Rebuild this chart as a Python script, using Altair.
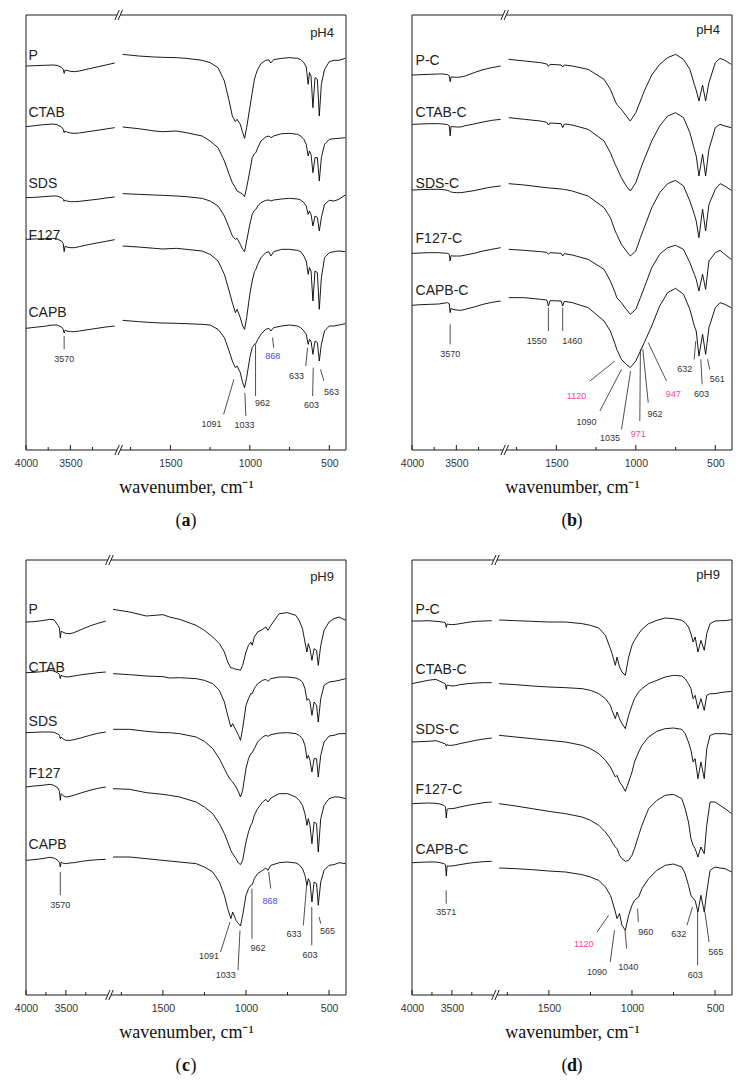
import altair as alt
import pandas as pd

# ---------------- data (wavenumber grids, cm-1) ----------------
LEFT_WN = [4000, 3900, 3800, 3700, 3650, 3600, 3580, 3570, 3560, 3540, 3500, 3450, 3400, 3300, 3200, 3100, 3000]

A_RIGHT_WN = [1800, 1700, 1600, 1550, 1460, 1400, 1300, 1250, 1200, 1160, 1130, 1110, 1091, 1080, 1060, 1045, 1033, 1020,
              1000, 985, 971, 962, 950, 930, 900, 880, 868, 850, 800, 750, 700, 680, 660, 645, 633, 625, 615, 603, 590,
              575, 563, 550, 530, 500, 470, 440, 400]
B_RIGHT_WN = [1800, 1700, 1600, 1560, 1550, 1540, 1470, 1460, 1450, 1400, 1300, 1200, 1160, 1130, 1120, 1091, 1060, 1035,
              1000, 971, 947, 900, 850, 800, 750, 700, 660, 632, 620, 603, 580, 561, 540, 500, 470, 440, 400]
C_RIGHT_WN = [1800, 1700, 1600, 1500, 1460, 1400, 1300, 1250, 1200, 1160, 1130, 1110, 1091, 1080, 1060, 1045, 1033, 1020,
              1000, 985, 971, 962, 950, 930, 900, 880, 868, 850, 800, 750, 700, 680, 660, 645, 633, 625, 615, 603, 590,
              575, 565, 550, 530, 500, 470, 440, 400]
D_RIGHT_WN = [1800, 1700, 1600, 1500, 1400, 1300, 1250, 1200, 1160, 1130, 1120, 1100, 1090, 1075, 1060, 1040, 1020, 1000,
              985, 960, 940, 900, 850, 800, 750, 700, 680, 660, 645, 632, 620, 603, 585, 565, 550, 530, 500, 470, 440, 400]

# ---------------- spectra (offset absorbance-like units, larger = lower) ----------------
# panel (a) pH4, powders
A_NAMES = ["P", "CTAB", "SDS", "F127", "CAPB"]
A_P_L = [195, 194, 193, 192, 193, 199, 205, 217, 207, 208, 211, 212, 210, 204, 198, 192, 186]
A_CTAB_L = [377, 374, 371, 369, 371, 378, 385, 395, 390, 393, 396, 397, 396, 392, 388, 384, 380]
A_SDS_L = [590, 589, 587, 585, 585, 590, 595, 601, 597, 600, 602, 602, 601, 598, 595, 591, 588]
A_F127_L = [715, 714, 713, 712, 714, 720, 728, 752, 736, 738, 740, 740, 737, 731, 726, 721, 716]
A_CAPB_L = [982, 979, 976, 972, 972, 978, 985, 996, 988, 990, 992, 992, 990, 986, 982, 978, 975]
A_P_R = [160, 165, 168, 169, 170, 172, 178, 185, 200, 240, 300, 345, 362, 355, 370, 395, 412, 380, 320, 275, 235, 220,
         205, 188, 178, 177, 186, 176, 172, 170, 172, 176, 185, 198, 250, 215, 225, 320, 230, 235, 345, 250, 205, 182,
         178, 178, 172]
A_CTAB_R = [378, 383, 390, 392, 390, 395, 405, 420, 440, 480, 520, 545, 560, 570, 575, 580, 587, 560, 510, 470, 458, 455,
            440, 420, 408, 405, 410, 405, 398, 397, 400, 405, 415, 430, 465, 450, 460, 515, 470, 470, 540, 470, 430, 415,
            413, 412, 410]
A_SDS_R = [578, 580, 582, 583, 585, 587, 592, 600, 615, 645, 680, 705, 715, 712, 730, 745, 752, 720, 670, 640, 628, 625,
           615, 605, 598, 597, 600, 597, 594, 592, 594, 597, 605, 615, 640, 630, 640, 675, 645, 650, 690, 650, 610, 598,
           600, 595, 582]
A_F127_R = [735, 738, 742, 744, 742, 745, 750, 760, 780, 820, 870, 905, 935, 925, 950, 975, 985, 950, 880, 840, 812, 805,
            790, 770, 755, 752, 765, 752, 745, 745, 748, 752, 765, 780, 820, 800, 810, 900, 810, 815, 925, 830, 770, 755,
            752, 750, 752]
A_CAPB_R = [958, 962, 965, 966, 967, 968, 970, 972, 985, 1010, 1050, 1080, 1100, 1095, 1115, 1145, 1160, 1130, 1070, 1040,
            1030, 1028, 1015, 1000, 985, 982, 990, 980, 975, 972, 975, 980, 990, 1000, 1030, 1015, 1020, 1060, 1020, 1025,
            1080, 1030, 990, 975, 975, 972, 968]

# panel (b) pH4, calcined
B_NAMES = ["P-C", "CTAB-C", "SDS-C", "F127-C", "CAPB-C"]
B_P_L = [222, 221, 220, 219, 219, 221, 224, 242, 228, 228, 229, 228, 225, 215, 206, 200, 195]
B_CTAB_L = [370, 369, 368, 368, 369, 371, 374, 405, 376, 377, 378, 378, 374, 369, 363, 358, 355]
B_SDS_L = [567, 566, 565, 565, 566, 568, 570, 572, 573, 574, 575, 575, 573, 569, 563, 558, 555]
B_F127_L = [757, 756, 755, 755, 756, 757, 760, 780, 764, 765, 765, 765, 762, 757, 750, 745, 740]
B_CAPB_L = [913, 911, 910, 909, 907, 905, 908, 935, 922, 925, 927, 928, 925, 918, 910, 904, 900]
B_P_R = [175, 180, 185, 189, 196, 190, 192, 198, 192, 195, 205, 235, 265, 300, 310, 325, 345, 360, 335, 300, 270, 222,
         190, 170, 160, 175, 205, 250, 268, 300, 252, 300, 245, 185, 172, 178, 190]
B_CTAB_R = [350, 355, 360, 364, 372, 366, 368, 380, 369, 372, 385, 420, 455, 490, 500, 530, 555, 570, 545, 505, 475, 420,
            375, 345, 335, 350, 395, 445, 465, 525, 460, 525, 445, 380, 370, 375, 380]
B_SDS_R = [548, 552, 558, 560, 561, 561, 564, 565, 565, 570, 585, 620, 650, 690, 700, 730, 750, 765, 750, 710, 680, 620,
           575, 548, 538, 555, 600, 640, 660, 710, 625, 690, 610, 565, 548, 555, 568]
B_F127_R = [745, 748, 752, 754, 760, 755, 757, 765, 758, 762, 775, 805, 840, 875, 890, 905, 925, 940, 925, 890, 860, 800,
            760, 740, 733, 745, 785, 820, 835, 870, 820, 865, 780, 755, 748, 760, 775]
B_CAPB_R = [890, 890, 895, 897, 915, 899, 900, 915, 901, 905, 920, 960, 990, 1030, 1045, 1075, 1090, 1100, 1080, 1050,
            1025, 975, 915, 875, 862, 880, 925, 975, 990, 1065, 1000, 1060, 980, 920, 905, 910, 920]

# panel (c) pH9, powders
C_NAMES = ["P", "CTAB", "SDS", "F127", "CAPB"]
C_P_L = [240, 239, 236, 232, 233, 250, 258, 288, 268, 270, 274, 275, 272, 262, 252, 244, 237]
C_CTAB_L = [392, 391, 389, 385, 387, 393, 397, 410, 400, 402, 405, 404, 402, 398, 395, 392, 390]
C_SDS_L = [572, 571, 570, 570, 571, 576, 580, 590, 585, 590, 595, 595, 593, 587, 580, 574, 570]
C_F127_L = [735, 732, 730, 727, 730, 738, 748, 775, 755, 760, 765, 763, 760, 752, 745, 739, 735]
C_CAPB_L = [955, 953, 950, 946, 948, 955, 962, 975, 960, 963, 965, 963, 962, 958, 955, 953, 952]
C_P_R = [202, 210, 222, 218, 225, 232, 250, 265, 285, 305, 330, 360, 378, 378, 382, 383, 385, 370, 330, 310, 300, 310,
         285, 270, 262, 255, 265, 250, 215, 212, 220, 235, 260, 300, 330, 305, 320, 355, 320, 325, 370, 310, 265, 240,
         230, 225, 235]
C_CTAB_R = [395, 398, 402, 404, 408, 407, 410, 415, 425, 445, 480, 520, 555, 545, 565, 580, 595, 560, 490, 470, 455, 455,
            440, 425, 415, 412, 418, 410, 405, 405, 408, 412, 420, 440, 475, 470, 478, 520, 480, 490, 540, 470, 430, 420,
            418, 415, 410]
C_SDS_R = [562, 562, 568, 572, 572, 575, 585, 598, 620, 650, 680, 700, 715, 720, 735, 750, 765, 745, 680, 650, 635, 632,
           620, 600, 585, 580, 583, 578, 573, 572, 575, 580, 590, 610, 650, 640, 655, 690, 650, 650, 705, 640, 600, 582,
           580, 575, 575]
C_F127_R = [740, 742, 752, 757, 760, 765, 780, 795, 815, 845, 875, 900, 925, 935, 950, 963, 968, 955, 900, 870, 850, 842,
            820, 800, 780, 772, 780, 768, 755, 755, 765, 775, 790, 815, 850, 830, 850, 905, 840, 845, 930, 830, 790, 770,
            765, 765, 770]
C_CAPB_R = [945, 945, 950, 955, 957, 960, 965, 975, 990, 1020, 1060, 1100, 1130, 1110, 1135, 1145, 1152, 1120, 1060, 1040,
            1030, 1028, 1010, 995, 985, 978, 985, 970, 962, 960, 963, 968, 980, 1000, 1030, 1010, 1020, 1080, 1020, 1025,
            1090, 1020, 985, 970, 968, 962, 965]

# panel (d) pH9, calcined
D_NAMES = ["P-C", "CTAB-C", "SDS-C", "F127-C", "CAPB-C"]
D_P_L = [237, 237, 236, 238, 239, 241, 243, 256, 246, 247, 248, 247, 245, 241, 238, 237, 236]
D_CTAB_L = [425, 420, 415, 412, 418, 423, 426, 442, 429, 430, 432, 431, 428, 425, 423, 422, 422]
D_SDS_L = [600, 599, 598, 596, 600, 604, 606, 612, 608, 610, 610, 608, 605, 600, 595, 591, 588]
D_F127_L = [785, 784, 783, 784, 786, 790, 795, 828, 802, 800, 800, 798, 795, 790, 786, 782, 780]
D_CAPB_L = [962, 961, 960, 960, 962, 965, 968, 1002, 972, 972, 972, 970, 968, 964, 961, 959, 958]
D_P_R = [234, 236, 238, 240, 240, 245, 250, 258, 280, 320, 335, 370, 345, 375, 390, 400, 345, 310, 295, 275, 262, 245,
         235, 228, 230, 235, 242, 255, 275, 300, 285, 330, 295, 325, 275, 245, 237, 236, 236, 233]
D_CTAB_R = [425, 428, 432, 435, 437, 440, 445, 455, 470, 490, 505, 530, 510, 530, 545, 560, 520, 490, 470, 450, 440, 425,
            415, 405, 400, 402, 410, 425, 440, 470, 460, 500, 470, 505, 460, 455, 455, 452, 450, 448]
D_SDS_R = [580, 585, 590, 595, 600, 610, 620, 635, 655, 675, 685, 705, 700, 720, 730, 748, 720, 690, 660, 630, 610, 585,
           568, 560, 558, 562, 575, 600, 625, 660, 650, 710, 660, 710, 620, 580, 575, 575, 575, 578]
D_F127_R = [785, 792, 800, 808, 815, 825, 835, 850, 870, 890, 900, 915, 920, 940, 950, 958, 955, 940, 920, 880, 850, 800,
            775, 760, 757, 770, 800, 840, 890, 910, 920, 945, 915, 935, 850, 780, 780, 790, 800, 815]
D_CAPB_R = [978, 980, 983, 987, 990, 998, 1005, 1015, 1035, 1060, 1075, 1110, 1130, 1115, 1150, 1165, 1120, 1090, 1075,
            1065, 1040, 1010, 985, 970, 966, 975, 995, 1030, 1060, 1070, 1075, 1110, 1060, 1110, 1050, 985, 975, 978, 980,
            990]

# ---------------- peak annotations ----------------
A_ANN_TXT = ["3570", "1091", "1033", "962", "868", "633", "603", "563"]
A_ANN_W1 = [3570, 1100, 1031, 964, 857, 637, 601, 555]
A_ANN_A1 = [1005, 1135, 1176, 1030, 1010, 1040, 1100, 1105]
A_ANN_W2 = [3570, 1165, 1025, 964, 850, 648, 605, 534]
A_ANN_A2 = [1045, 1240, 1245, 1185, 1040, 1095, 1185, 1140]
A_ANN_TW = [3570, 1241, 1033, 920, 855, 706, 612, 486]
A_ANN_TA = [1075, 1269, 1272, 1205, 1065, 1125, 1213, 1172]
A_ANN_COL = ["k", "k", "k", "k", "blue", "k", "k", "k"]

B_ANN_TXT = ["3570", "1550", "1460", "1120", "1090", "1035", "971", "962", "947", "632", "603", "561"]
B_ANN_W1 = [3570, 1550, 1460, 1132, 1090, 1033, 971, 956, 922, 623, 591, 549]
B_ANN_A1 = [970, 920, 920, 1080, 1105, 1110, 1045, 1045, 1025, 1020, 1075, 1075]
B_ANN_W2 = [3570, 1550, 1460, 1289, 1226, 1090, 975, 922, 807, 633, 583, 535]
B_ANN_A2 = [1030, 990, 990, 1140, 1230, 1285, 1260, 1205, 1140, 1075, 1150, 1105]
B_ANN_TW = [3570, 1623, 1400, 1373, 1310, 1163, 985, 880, 765, 692, 587, 488]
B_ANN_TA = [1058, 1020, 1020, 1185, 1262, 1312, 1298, 1240, 1180, 1105, 1180, 1135]
B_ANN_COL = ["k", "k", "k", "pink", "k", "k", "pink", "k", "pink", "k", "k", "k"]

C_ANN_TXT = ["3570", "1091", "1033", "962", "868", "633", "603", "565"]
C_ANN_W1 = [3570, 1096, 1036, 964, 863, 634, 604, 560]
C_ANN_A1 = [990, 1140, 1165, 1040, 990, 1025, 1095, 1125]
C_ANN_W2 = [3570, 1153, 1048, 964, 851, 655, 604, 550]
C_ANN_A2 = [1060, 1230, 1285, 1190, 1040, 1150, 1210, 1145]
C_ANN_TW = [3570, 1223, 1122, 928, 855, 711, 614, 510]
C_ANN_TA = [1090, 1243, 1300, 1218, 1078, 1175, 1240, 1168]
C_ANN_COL = ["k", "k", "k", "k", "blue", "k", "k", "k"]

D_ANN_TXT = ["3571", "1120", "1090", "1040", "960", "632", "603", "565"]
D_ANN_W1 = [3571, 1141, 1105, 1042, 966, 636, 605, 561]
D_ANN_A1 = [1045, 1120, 1165, 1165, 1100, 1095, 1110, 1110]
D_ANN_W2 = [3571, 1210, 1131, 1032, 962, 669, 605, 536]
D_ANN_A2 = [1085, 1170, 1260, 1220, 1140, 1150, 1270, 1200]
D_ANN_TW = [3571, 1290, 1210, 1022, 917, 718, 619, 496]
D_ANN_TA = [1110, 1205, 1290, 1275, 1170, 1175, 1300, 1230]
D_ANN_COL = ["k", "pink", "k", "k", "k", "k", "k", "k"]

# sample-name label heights, pH tag heights
A_LAB_A = [165, 335, 548, 705, 935]
B_LAB_A = [180, 335, 550, 715, 870]
C_LAB_A = [205, 378, 540, 695, 910]
D_LAB_A = [205, 385, 565, 745, 925]
PH_TEXT = ["pH4", "pH4", "pH9", "pH9"]
PH_A = [95, 88, 105, 100]

MAJOR_TICKS = [4000, 3500, 1500, 1000, 500]
MINOR_TICKS = [3750, 3250, 1750, 1250, 750]

# ---------------- styling / geometry ----------------
W, H = 320, 435
SANS = "Liberation Sans"
SERIF = "Liberation Serif"
COLORS = {"k": "#333333", "pink": "#ff3d9e", "blue": "#4a4af2"}
GEOM_AB = {"L": 558.0, "R0": 608.0, "total": 2013.0}
GEOM_CD = {"L": 480.0, "R0": 524.0, "total": 1926.0}
YDOM_TOP = [1347, 42]
YDOM_BOT = [1359, 54]


def pos_expr(f, g):
    kL = g["L"] / 1000.0
    return f"datum.{f} >= 2500 ? (4000 - datum.{f}) * {kL} : {g['R0']} + (1800 - datum.{f})"


def to_pos(w, g):
    return (4000 - w) * g["L"] / 1000.0 if w >= 2500 else g["R0"] + (1800 - w)


def panel(names, lefts, rwn, rights, g, ydom, ann, lab_a, lab_w, ph_t, ph_a, cap):
    xsc = alt.Scale(domain=[0, g["total"]], nice=False, zero=False)
    ysc = alt.Scale(domain=ydom, nice=False, zero=False)
    kL = g["L"] / 1000.0
    rows = []
    for nm, lv, rv in zip(names, lefts, rights):
        for w, v in zip(LEFT_WN, lv):
            rows.append({"key": nm + " L", "wn": w, "a": v})
        for w, v in zip(rwn, rv):
            rows.append({"key": nm + " R", "wn": w, "a": v})
    spec = pd.DataFrame(rows)

    label_expr = (f"datum.value <= {g['L'] + 1} ? format(4000 - datum.value / {kL}, 'd') : "
                  f"format(1800 - (datum.value - {g['R0']}), 'd')")
    xaxis = alt.Axis(values=[to_pos(w, g) for w in MAJOR_TICKS], labelExpr=label_expr, ticks=False, tickSize=0,
                     domain=False, grid=False, labelFlush=False, labelOverlap=False, labelFont=SANS,
                     labelFontSize=10.5, labelColor="#333333", labelPadding=8, title="wavenumber, cm⁻¹",
                     titleFont=SERIF, titleFontSize=18, titleFontWeight="normal", titleColor="#111111",
                     titlePadding=10)

    def X(field):
        return alt.X(field, scale=xsc, axis=xaxis)

    def Y(field):
        return alt.Y(field, scale=ysc, axis=None)

    lines = alt.Chart(spec).transform_calculate(pos=pos_expr("wn", g)).mark_line(
        color="black", strokeWidth=0.9).encode(x=X("pos:Q"), y=Y("a:Q"), detail="key:N")

    # frame with axis break
    upp = g["total"] / W
    c = (g["L"] + g["R0"]) / 2.0
    d, s = 1.6 * upp, 2.2 * upp
    seg = pd.DataFrame({"x1": [0, c + d], "x2": [c - d, g["total"]]})
    sl = pd.DataFrame({"x1": [c - d - s, c + d - s], "x2": [c - d + s, c + d + s]})
    one = pd.DataFrame({"v": [0]})
    frame_col = "#1a1a1a"
    top = alt.Chart(seg).mark_rule(color=frame_col, strokeWidth=1).encode(
        x=X("x1:Q"), x2="x2:Q", y=alt.value(0))
    bot = alt.Chart(seg).mark_rule(color=frame_col, strokeWidth=1).encode(
        x=X("x1:Q"), x2="x2:Q", y=alt.value(H))
    sl_top = alt.Chart(sl).mark_rule(color=frame_col, strokeWidth=1).encode(
        x=X("x1:Q"), x2="x2:Q", y=alt.value(5), y2=alt.value(-5))
    sl_bot = alt.Chart(sl).mark_rule(color=frame_col, strokeWidth=1).encode(
        x=X("x1:Q"), x2="x2:Q", y=alt.value(H + 5), y2=alt.value(H - 5))
    left = alt.Chart(one).mark_rule(color=frame_col, strokeWidth=1).encode(
        x=alt.value(0), y=alt.value(0), y2=alt.value(H))
    right = alt.Chart(one).mark_rule(color=frame_col, strokeWidth=1).encode(
        x=alt.value(W), y=alt.value(0), y2=alt.value(H))

    ticks_major = alt.Chart(pd.DataFrame({"wn": MAJOR_TICKS})).transform_calculate(
        pos=pos_expr("wn", g)).mark_rule(color=frame_col, strokeWidth=1).encode(
        x=X("pos:Q"), y=alt.value(H), y2=alt.value(H - 5))
    ticks_minor = alt.Chart(pd.DataFrame({"wn": MINOR_TICKS})).transform_calculate(
        pos=pos_expr("wn", g)).mark_rule(color=frame_col, strokeWidth=1).encode(
        x=X("pos:Q"), y=alt.value(H), y2=alt.value(H - 3))

    # annotations
    txt, w1, a1, w2, a2, tw, ta, col = ann
    adf = pd.DataFrame({"t": txt, "w1": w1, "a1": a1, "w2": w2, "a2": a2, "tw": tw, "ta": ta,
                        "col": [COLORS[k] for k in col]})
    leaders = alt.Chart(adf).transform_calculate(p1=pos_expr("w1", g), p2=pos_expr("w2", g)).mark_rule(
        color="#222222", strokeWidth=0.8).encode(x=X("p1:Q"), x2="p2:Q", y=Y("a1:Q"), y2="a2:Q")
    peak_txt = alt.Chart(adf).transform_calculate(pt=pos_expr("tw", g)).mark_text(
        font=SANS, fontSize=9, baseline="middle", align="center").encode(
        x=X("pt:Q"), y=Y("ta:Q"), text="t:N", color=alt.Color("col:N", scale=None))

    ldf = pd.DataFrame({"name": names, "w": [lab_w] * len(names), "a": lab_a})
    labels = alt.Chart(ldf).transform_calculate(pos=pos_expr("w", g)).mark_text(
        font=SANS, fontSize=14, align="left", baseline="middle", color="#222222").encode(
        x=X("pos:Q"), y=Y("a:Q"), text="name:N")

    ph = alt.Chart(pd.DataFrame({"t": [ph_t], "a": [ph_a]})).mark_text(
        font=SANS, fontSize=13, align="right", baseline="middle", color="#222222").encode(
        x=alt.value(W - 12), y=Y("a:Q"), text="t:N")

    cy = H + 71
    cap1 = alt.Chart(one).mark_text(font=SERIF, fontSize=18, align="right", baseline="middle",
                                    color="#111111", text="(").encode(x=alt.value(W / 2 - 4.5), y=alt.value(cy))
    cap2 = alt.Chart(one).mark_text(font=SERIF, fontSize=18, align="center", baseline="middle",
                                    fontWeight="bold", color="#111111", text=cap).encode(
        x=alt.value(W / 2), y=alt.value(cy))
    cap3 = alt.Chart(one).mark_text(font=SERIF, fontSize=18, align="left", baseline="middle",
                                    color="#111111", text=")").encode(x=alt.value(W / 2 + 4.5), y=alt.value(cy))

    return alt.layer(lines, top, bot, left, right, sl_top, sl_bot, ticks_major, ticks_minor,
                     leaders, peak_txt, labels, ph, cap1, cap2, cap3).properties(width=W, height=H)


pa = panel(A_NAMES, [A_P_L, A_CTAB_L, A_SDS_L, A_F127_L, A_CAPB_L], A_RIGHT_WN,
           [A_P_R, A_CTAB_R, A_SDS_R, A_F127_R, A_CAPB_R], GEOM_AB, YDOM_TOP,
           (A_ANN_TXT, A_ANN_W1, A_ANN_A1, A_ANN_W2, A_ANN_A2, A_ANN_TW, A_ANN_TA, A_ANN_COL),
           A_LAB_A, 3972, PH_TEXT[0], PH_A[0], "a")
pb = panel(B_NAMES, [B_P_L, B_CTAB_L, B_SDS_L, B_F127_L, B_CAPB_L], B_RIGHT_WN,
           [B_P_R, B_CTAB_R, B_SDS_R, B_F127_R, B_CAPB_R], GEOM_AB, YDOM_TOP,
           (B_ANN_TXT, B_ANN_W1, B_ANN_A1, B_ANN_W2, B_ANN_A2, B_ANN_TW, B_ANN_TA, B_ANN_COL),
           B_LAB_A, 3960, PH_TEXT[1], PH_A[1], "b")
pc = panel(C_NAMES, [C_P_L, C_CTAB_L, C_SDS_L, C_F127_L, C_CAPB_L], C_RIGHT_WN,
           [C_P_R, C_CTAB_R, C_SDS_R, C_F127_R, C_CAPB_R], GEOM_CD, YDOM_BOT,
           (C_ANN_TXT, C_ANN_W1, C_ANN_A1, C_ANN_W2, C_ANN_A2, C_ANN_TW, C_ANN_TA, C_ANN_COL),
           C_LAB_A, 3968, PH_TEXT[2], PH_A[2], "c")
pd_ = panel(D_NAMES, [D_P_L, D_CTAB_L, D_SDS_L, D_F127_L, D_CAPB_L], D_RIGHT_WN,
            [D_P_R, D_CTAB_R, D_SDS_R, D_F127_R, D_CAPB_R], GEOM_CD, YDOM_BOT,
            (D_ANN_TXT, D_ANN_W1, D_ANN_A1, D_ANN_W2, D_ANN_A2, D_ANN_TW, D_ANN_TA, D_ANN_COL),
            D_LAB_A, 3955, PH_TEXT[3], PH_A[3], "d")

row1 = alt.hconcat(pa, pb, spacing=52)
row2 = alt.hconcat(pc, pd_, spacing=52)
chart = alt.vconcat(row1, row2, spacing=24).configure_view(stroke=None).properties(
    padding={"left": 6, "top": 1, "right": 0, "bottom": 0})

chart.save("out.html", embed_options={"renderer": "svg", "actions": False})
